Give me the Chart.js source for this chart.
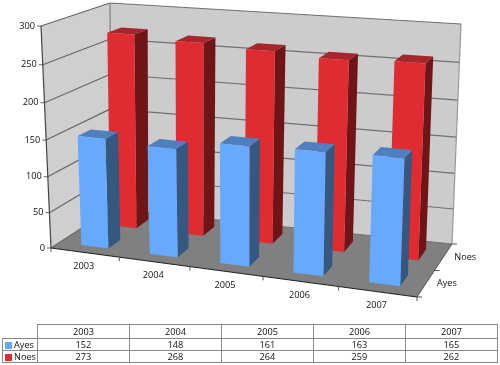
<!DOCTYPE html>
<html lang="en">

<head>
    <meta charset="UTF-8">
    <title>Ayes and Noes</title>
    <script src="https://cdn.jsdelivr.net/npm/chart.js"></script>
    <style>
        html, body { margin: 0; padding: 0; background: #fff; }
        #wrap { position: relative; width: 500px; height: 365px; overflow: hidden; }
        #tabela {
            position: absolute; left: 2px; top: 324px; width: 496px; height: 38px;
            border-collapse: collapse; table-layout: fixed;
            font: 9.2px "Open Sans", sans-serif; color: #111; text-align: center;
        }
        #tabela td { border: 1px solid #8a8a8a; padding: 0; font-weight: normal; height: 11px; line-height: 11px; }
        #tabela th { border: 1px solid #8a8a8a; padding: 0; font-weight: normal; height: 13px; line-height: 13px; }
        #tabela .vazio { border: none; }
        #tabela .nome { text-align: left; white-space: nowrap; }
        #tabela .nome i { display: inline-block; width: 7px; height: 7px; margin: 0 2px 0 2px; vertical-align: -1px; }
    </style>
</head>

<body>
    <div id="wrap">
        <canvas id="myChartCanvas" width="500" height="365"></canvas>
        <table id="tabela"></table>
    </div>

    <script>
        const anos = ["2003", "2004", "2005", "2006", "2007"];
        const ayes = [152, 148, 161, 163, 165];
        const noes = [273, 268, 264, 259, 262];
        const nomes = ["Ayes", "Noes"];

        const fonte = '9.2px "Open Sans", sans-serif';

        // cantos da sala em pixels: chao e topo (fl = frente esquerda, br = fundo direita)
        const chao = { fl: [51, 248], fr: [417, 297], bl: [111, 209], br: [452, 244] };
        const topo = { fl: [41, 26], fr: [426, 54], bl: [110, 3], br: [461, 24] };
        const perspU = 1.09;
        const perspH = 1.057;
        const profundidade = 0.21; // fração do chão ocupada por uma barra
        const filas = [0.255, 0.75]; // centro de cada série no chão
        const desvioU = 0.004; // ajuste fino das barras ao longo dos anos

        const cores = [
            { frente: "#66aaff", lado: "#34587f", cima: "#4f80bd" },
            { frente: "#e02b32", lado: "#6f1518", cima: "#a5272c" }
        ];

        function persp(t, k) {
            return t / (t + (1 - t) * k);
        }

        function bilinear(q, u, v) {
            const a = [q.fl[0] + (q.fr[0] - q.fl[0]) * u, q.fl[1] + (q.fr[1] - q.fl[1]) * u];
            const b = [q.bl[0] + (q.br[0] - q.bl[0]) * u, q.bl[1] + (q.br[1] - q.bl[1]) * u];
            return [a[0] + (b[0] - a[0]) * v, a[1] + (b[1] - a[1]) * v];
        }

        // u = ao longo dos anos, v = profundidade, h = altura (tudo de 0 a 1)
        function projetar(u, v, h) {
            const uu = persp(u, perspU);
            const hh = persp(h, perspH);
            const p0 = bilinear(chao, uu, v);
            const p1 = bilinear(topo, uu, v);
            return [p0[0] + (p1[0] - p0[0]) * hh, p0[1] + (p1[1] - p0[1]) * hh];
        }

        function poligono(ctx, pontos, cor) {
            ctx.beginPath();
            pontos.forEach(function (p, i) {
                if (i == 0) ctx.moveTo(p[0], p[1]);
                else ctx.lineTo(p[0], p[1]);
            });
            ctx.closePath();
            ctx.fillStyle = cor;
            ctx.fill();
        }

        function linha(ctx, a, b, cor, larg) {
            ctx.beginPath();
            ctx.moveTo(a[0], a[1]);
            ctx.lineTo(b[0], b[1]);
            ctx.strokeStyle = cor;
            ctx.lineWidth = larg || 1;
            ctx.stroke();
        }

        const sala3d = {
            id: "sala3d",
            beforeDatasetsDraw(chart) {
                const ctx = chart.ctx;
                const area = chart.chartArea;
                const yScale = chart.scales.y;
                const xScale = chart.scales.x;

                ctx.save();
                // paredes e chao
                poligono(ctx, [projetar(0, 0, 0), projetar(0, 1, 0), projetar(0, 1, 1), projetar(0, 0, 1)], "#cfcfcf");
                poligono(ctx, [projetar(0, 1, 0), projetar(1, 1, 0), projetar(1, 1, 1), projetar(0, 1, 1)], "#cccccc");
                poligono(ctx, [projetar(0, 0, 0), projetar(1, 0, 0), projetar(1, 1, 0), projetar(0, 1, 0)], "#808080");

                // linhas de grade e marcas do eixo y
                ctx.font = fonte;
                ctx.textAlign = "right";
                ctx.textBaseline = "middle";
                yScale.ticks.forEach(function (tick) {
                    const h = (area.bottom - yScale.getPixelForValue(tick.value)) / area.height;
                    const a = projetar(0, 0, h);
                    const b = projetar(0, 1, h);
                    const c = projetar(1, 1, h);
                    linha(ctx, a, b, "#666", 1.2);
                    linha(ctx, b, c, "#707070", 1.2);
                    linha(ctx, [a[0] - 4, a[1]], a, "#666");
                    ctx.fillStyle = "#111";
                    ctx.fillText(tick.label, a[0] - 6, a[1]);
                });

                // contornos
                linha(ctx, projetar(0, 1, 0), projetar(0, 1, 1), "#808080", 1.2);
                linha(ctx, projetar(1, 1, 0), projetar(1, 1, 1), "#999", 1.2);
                linha(ctx, projetar(0, 0, 0), projetar(0, 0, 1), "#444", 1.2);
                linha(ctx, projetar(0, 0, 0), projetar(1, 0, 0), "#222", 1.2);
                linha(ctx, projetar(1, 0, 0), projetar(1, 1, 0), "#555");

                // eixo dos anos
                ctx.textAlign = "center";
                for (let i = 0; i <= anos.length; i++) {
                    const u = i / anos.length;
                    const p = projetar(u, 0, 0);
                    linha(ctx, p, [p[0], p[1] + 4], "#555");
                }
                anos.forEach(function (ano, i) {
                    const u = (xScale.getPixelForValue(i) - area.left) / area.width;
                    const p = projetar(u, 0, 0);
                    ctx.fillStyle = "#111";
                    ctx.fillText(ano, p[0] - 1, p[1] + 14);
                });

                // eixo das series
                [0, 0.5, 1].forEach(function (v) {
                    const p = projetar(1, v, 0);
                    linha(ctx, p, [p[0] + 5, p[1]], "#555");
                });
                ctx.textAlign = "left";
                nomes.forEach(function (nome, i) {
                    const p = projetar(1, filas[i], 0);
                    ctx.fillStyle = "#111";
                    ctx.fillText(nome, p[0] + 11, p[1]);
                });
                ctx.restore();
            },
            // desenha cada barra do Chart.js como uma caixa na sala
            beforeDatasetDraw(chart, args) {
                const ctx = chart.ctx;
                const area = chart.chartArea;
                const cor = cores[args.index];
                const v0 = filas[args.index] - profundidade / 2;
                const v1 = filas[args.index] + profundidade / 2;

                args.meta.data.forEach(function (barra) {
                    const u0 = (barra.x - barra.width / 2 - area.left) / area.width + desvioU;
                    const u1 = (barra.x + barra.width / 2 - area.left) / area.width + desvioU;
                    const h = (barra.base - barra.y) / area.height;

                    poligono(ctx, [projetar(u1, v0, 0), projetar(u1, v1, 0), projetar(u1, v1, h), projetar(u1, v0, h)], cor.lado);
                    poligono(ctx, [projetar(u0, v0, h), projetar(u1, v0, h), projetar(u1, v1, h), projetar(u0, v1, h)], cor.cima);
                    poligono(ctx, [projetar(u0, v0, 0), projetar(u1, v0, 0), projetar(u1, v0, h), projetar(u0, v0, h)], cor.frente);
                });
                return false;
            }
        };

        new Chart(document.getElementById("myChartCanvas"), {
            type: "bar",
            data: {
                labels: anos,
                datasets: [
                    { label: nomes[0], data: ayes, backgroundColor: cores[0].frente },
                    { label: nomes[1], data: noes, backgroundColor: cores[1].frente }
                ]
            },
            options: {
                responsive: false,
                animation: false,
                layout: { padding: { left: 50, right: 50, top: 20, bottom: 60 } },
                datasets: { bar: { grouped: false, categoryPercentage: 1, barPercentage: 0.4 } },
                plugins: { legend: { display: false }, tooltip: { enabled: false } },
                scales: {
                    x: { display: false },
                    y: { display: false, min: 0, max: 300, ticks: { stepSize: 50 } }
                }
            },
            plugins: [sala3d]
        });

        // tabela de dados abaixo do grafico
        let html = '<colgroup><col style="width:35px"><col span="5"></colgroup><tr><th class="vazio"></th>';
        anos.forEach(function (ano) { html += "<th>" + ano + "</th>"; });
        html += "</tr>";
        [ayes, noes].forEach(function (serie, i) {
            html += '<tr><td class="nome"><i style="background:' + cores[i].frente + '"></i>' + nomes[i] + "</td>";
            serie.forEach(function (valor) { html += "<td>" + valor + "</td>"; });
            html += "</tr>";
        });
        document.getElementById("tabela").innerHTML = html;
    </script>
</body>

</html>
